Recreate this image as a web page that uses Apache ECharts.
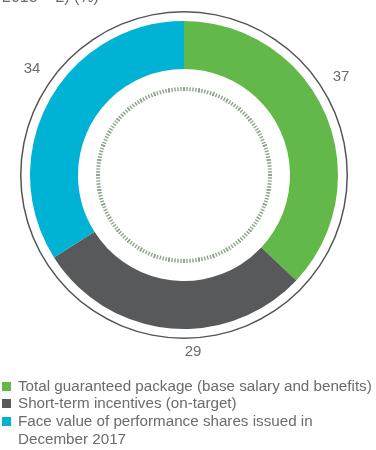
<!DOCTYPE html>
<html><head><meta charset="utf-8">
<script src="https://cdn.jsdelivr.net/npm/echarts@6/dist/echarts.min.js"></script>
<style>html,body{margin:0;padding:0;background:#fff}#c{width:376px;height:450px}</style>
</head><body><div id="c"></div>
<script>
var categories = [
  'Total guaranteed package (base salary and benefits)',
  'Short-term incentives (on-target)',
  'Face value of performance shares issued in December 2017'
];
var values = [37, 29, 34];
var colors = ['#62b848', '#58595b', '#00b3d4'];
var legendLabels = [
  'Total guaranteed package (base salary and benefits)',
  'Short-term incentives (on-target)',
  '\nFace value of performance shares issued in\nDecember 2017'
];
var titleText = '2018 \u2013 2) (%)';

var cx = 184, cy = 175;
var labelPos = [[341, 77], [193, 352], [32, 69]];
var txtColor = '#6b6b6b';
var font = 'Liberation Sans';

var chart = echarts.init(document.getElementById('c'), null, {renderer: 'canvas'});
var legendTops = [377.5, 394.5, 394.5];
var legends = categories.map(function (name, i) {
  return {
    orient: 'vertical', left: 2, top: legendTops[i], padding: 0,
    itemWidth: 9, itemHeight: 9, icon: 'rect', selectedMode: false,
    data: [name],
    formatter: function () { return legendLabels[i]; },
    textStyle: {
      color: txtColor, fontSize: 15.2, fontFamily: font, lineHeight: 18,
      padding: [0, 0, 0, 2]
    }
  };
});
chart.setOption({
  animation: false,
  color: colors,
  title: {text: titleText, left: 2, top: -10, padding: 0,
    textStyle: {color: txtColor, fontSize: 16, fontWeight: 'normal', fontFamily: font}},
  legend: legends,
  series: [
    {
      type: 'pie', center: [cx, cy], radius: [106, 154], startAngle: 90, clockwise: true,
      silent: true, avoidLabelOverlap: false,
      data: categories.map(function (c, i) { return {name: c, value: values[i]}; }),
      label: {show: true, position: 'outside', alignTo: 'none', overflow: 'none',
        formatter: '{c}', color: txtColor, fontSize: 15, fontFamily: font},
      labelLine: {show: false, length: 5, length2: 0},
      labelLayout: function (p) {
        var pt = labelPos[p.dataIndex];
        return {x: pt[0], y: pt[1], align: 'center', verticalAlign: 'middle', hideOverlap: false};
      }
    },
    {
      type: 'gauge', center: [cx, cy], radius: 164, startAngle: 90, endAngle: -270,
      silent: true, min: 0, max: 100, z: 1,
      axisLine: {show: true, lineStyle: {width: 1.5, color: [[1, '#555555']]}},
      axisTick: {show: false}, splitLine: {show: false}, axisLabel: {show: false},
      pointer: {show: false}, detail: {show: false}, title: {show: false}, data: []
    },
    {
      type: 'gauge', center: [cx, cy], radius: 88, startAngle: 90, endAngle: -270,
      silent: true, min: 0, max: 100, splitNumber: 36, z: 1,
      axisLine: {show: false, lineStyle: {width: 0}},
      axisTick: {show: true, splitNumber: 5, length: 4, distance: 0,
        lineStyle: {color: '#8ea388', width: 1.4}},
      splitLine: {show: true, length: 4, distance: 0,
        lineStyle: {color: '#8ea388', width: 1.4}},
      axisLabel: {show: false},
      pointer: {show: false}, detail: {show: false}, title: {show: false}, data: []
    }
  ]
});
</script></body></html>
